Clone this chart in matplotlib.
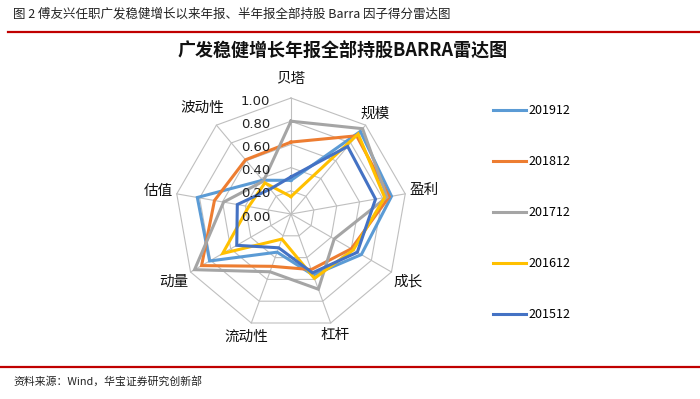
import numpy as np
import matplotlib
matplotlib.use("Agg")
import matplotlib.pyplot as plt
from matplotlib.lines import Line2D
from matplotlib.transforms import offset_copy

plt.rcParams['font.family'] = ['Noto Sans CJK SC', 'DejaVu Sans']

categories = ['贝塔', '规模', '盈利', '成长', '杠杆', '流动性', '动量', '估值', '波动性']
s201912 = [0.29, 0.93, 0.88, 0.70, 0.56, 0.35, 0.81, 0.82, 0.38]
s201812 = [0.62, 0.88, 0.86, 0.60, 0.51, 0.48, 0.89, 0.67, 0.61]
s201712 = [0.80, 0.96, 0.84, 0.43, 0.69, 0.53, 0.96, 0.59, 0.37]
s201612 = [0.15, 0.90, 0.82, 0.62, 0.59, 0.23, 0.68, 0.37, 0.35]
s201512 = [0.32, 0.76, 0.74, 0.66, 0.54, 0.31, 0.54, 0.47, 0.28]
series_names = ['201912', '201812', '201712', '201612', '201512']
series_vals = [s201912, s201812, s201712, s201612, s201512]
colors = ['#5B9BD5', '#ED7D31', '#A5A5A5', '#FFC000', '#4472C4']
levels = [0.0, 0.2, 0.4, 0.6, 0.8, 1.0]
level_labels = ['0.00', '0.20', '0.40', '0.60', '0.80', '1.00']

W, H = 700, 399
fig = plt.figure(figsize=(W / 100, H / 100), dpi=100)
fig.patch.set_facecolor('white')

# header
fig.text(13 / W, 1 - 14 / H, '图 2 傅友兴任职广发稳健增长以来年报、半年报全部持股 Barra 因子得分雷达图',
         fontsize=9, va='center', ha='left', color='#222222')
fig.add_artist(Line2D([8 / W, 1.0], [1 - 31.5 / H] * 2, transform=fig.transFigure,
                      color='#C00000', lw=1.6))
fig.add_artist(Line2D([0.0, 1.0], [1 - 367 / H] * 2, transform=fig.transFigure,
                      color='#C00000', lw=1.6))
fig.text(13 / W, 1 - 381 / H, '资料来源：Wind，华宝证券研究创新部', fontsize=7.8,
         va='center', ha='left', color='#222222')

# chart title
fig.text(343 / W, 1 - 50 / H, '广发稳健增长年报全部持股BARRA雷达图', fontsize=13,
         fontweight='bold', ha='center', va='center', color='#111111')

cx, cy, R = 291, 214, 116
ax = fig.add_axes([(cx - R) / W, (H - cy - R) / H, 2 * R / W, 2 * R / H], projection='polar')
ax.set_theta_offset(np.pi / 2)
ax.set_theta_direction(-1)
ax.set_ylim(0, 1)
ax.grid(False)
ax.set_xticks([])
ax.set_yticks([])
ax.spines['polar'].set_visible(False)
ax.patch.set_alpha(0)

n = len(categories)
theta = np.linspace(0, 2 * np.pi, n, endpoint=False)
theta_c = np.append(theta, theta[0])

grid_color = '#BFBFBF'
for lvl in levels[1:]:
    ax.plot(theta_c, [lvl] * (n + 1), color=grid_color, lw=0.8, clip_on=False, zorder=1)
for th in theta:
    ax.plot([th, th], [0, 1], color=grid_color, lw=0.8, clip_on=False, zorder=1)

handles = []
for name, vals, col in zip(series_names, series_vals, colors):
    v = np.append(vals, vals[0])
    h, = ax.plot(theta_c, v, color=col, lw=2.2, clip_on=False, zorder=3, label=name,
                 solid_joinstyle='miter')
    handles.append(h)

# tick labels
tr = offset_copy(ax.transData, fig=fig, x=-21, y=-3, units='dots')
for lvl, lab in zip(levels, level_labels):
    ax.text(0, lvl, lab, transform=tr, ha='right', va='center', fontsize=9.5,
            family='DejaVu Sans', color='#222222')

# category labels
label_r = [1.16, 1.13, 1.17, 1.17, 1.11, 1.13, 1.17, 1.16, 1.19]
for th, lab, r in zip(theta, categories, label_r):
    ax.text(th, r, lab, ha='center', va='center', fontsize=10.5, color='#111111',
            fontweight='medium')

fig.legend(handles=handles, labels=series_names, loc='upper left',
           bbox_to_anchor=(493 / W, 1 - 104 / H), frameon=False, fontsize=9,
           labelspacing=3.05, handlelength=2.6, handletextpad=0.25,
           borderpad=0, borderaxespad=0)

fig.savefig('out.png', dpi=100, facecolor='white')
